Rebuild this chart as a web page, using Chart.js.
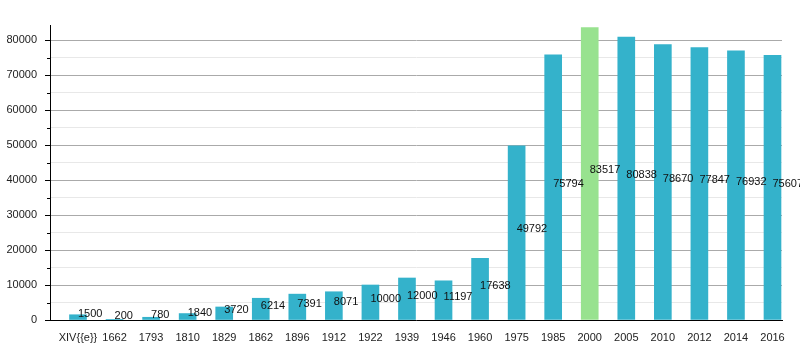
<!DOCTYPE html>
<html><head><meta charset="utf-8">
<script src="https://cdn.jsdelivr.net/npm/chart.js@4"></script>
<style>html,body{margin:0;padding:0;background:#fff}#wrap{width:800px;height:350px}</style>
</head><body><div id="wrap"><canvas id="c" width="800" height="350"></canvas></div>
<script>
const categories = ["XIV{{e}}","1662","1793","1810","1829","1862","1896","1912","1922","1939","1946","1960","1975","1985","2000","2005","2010","2012","2014","2016"];
const population = [1500,200,780,1840,3720,6214,7391,8071,10000,12000,11197,17638,49792,75794,83517,80838,78670,77847,76932,75607];
const yTickValues = [0,5000,10000,15000,20000,25000,30000,35000,40000,45000,50000,55000,60000,65000,70000,75000,80000];
const highlightCategory = "2000";

const TEAL = '#34b2cb', GREEN = '#98e28f';
Chart.defaults.font.family = '"Liberation Sans", Arial, sans-serif';
Chart.defaults.font.size = 11;
Chart.defaults.color = '#222';

const valueLabels = {
  id: 'valueLabels',
  afterDatasetsDraw(chart) {
    const {ctx, scales: {x, y}} = chart;
    ctx.save();
    ctx.font = '11px "Liberation Sans", Arial, sans-serif';
    ctx.fillStyle = '#111';
    ctx.textAlign = 'left';
    ctx.textBaseline = 'middle';
    population.forEach((v, i) => {
      ctx.fillText(String(v), x.getPixelForValue(i), y.getPixelForValue(v / 2) - 3.5);
    });
    ctx.restore();
  }
};
const minorTicks = {
  id: 'minorTicks',
  afterDraw(chart) {
    const y = chart.scales.y, ctx = chart.ctx;
    ctx.save();
    ctx.strokeStyle = '#000'; ctx.lineWidth = 1;
    yTickValues.forEach(v => {
      if (v % 10000 !== 0) {
        const py = Math.round(y.getPixelForValue(v)) + 0.5;
        ctx.beginPath(); ctx.moveTo(y.right - 3, py); ctx.lineTo(y.right, py); ctx.stroke();
      }
    });
    ctx.restore();
  }
};

new Chart(document.getElementById('c'), {
  type: 'bar',
  data: {
    datasets: [{
      data: population.map((v, i) => ({x: i, y: v})),
      backgroundColor: c => categories[c.dataIndex] === highlightCategory ? GREEN : TEAL,
      barThickness: 17
    }]
  },
  options: {
    responsive: false,
    animation: false,
    devicePixelRatio: 1,
    layout: {padding: {top: 25, right: 18, left: 0, bottom: 0}},
    plugins: {legend: {display: false}, tooltip: {enabled: false}},
    scales: {
      x: {
        type: 'linear',
        min: -0.766, max: 19.26,
        offset: false,
        afterBuildTicks: s => { s.ticks = categories.map((_, i) => ({value: i})); },
        afterFit: s => { s.height = 30; },
        ticks: {autoSkip: false, maxRotation: 0, padding: 3, callback: v => categories[v]},
        grid: {display: false},
        border: {display: true, color: '#000', width: 1}
      },
      y: {
        min: 0, max: 84286,
        afterBuildTicks: s => { s.ticks = yTickValues.map(v => ({value: v})); },
        afterFit: s => { s.width = 50; },
        ticks: {autoSkip: false, padding: 8, callback: v => (v % 10000 === 0 ? String(v) : '')},
        grid: {
          color: c => (c.tick && c.tick.value % 10000 === 0) ? '#aaaaaa' : '#e8e8e8',
          tickColor: c => (c.tick && c.tick.value % 10000 === 0) ? '#000' : 'rgba(0,0,0,0)',
          tickLength: 5,
          drawTicks: true
        },
        border: {color: '#000', width: 1}
      }
    }
  },
  plugins: [valueLabels, minorTicks]
});
</script></body></html>
